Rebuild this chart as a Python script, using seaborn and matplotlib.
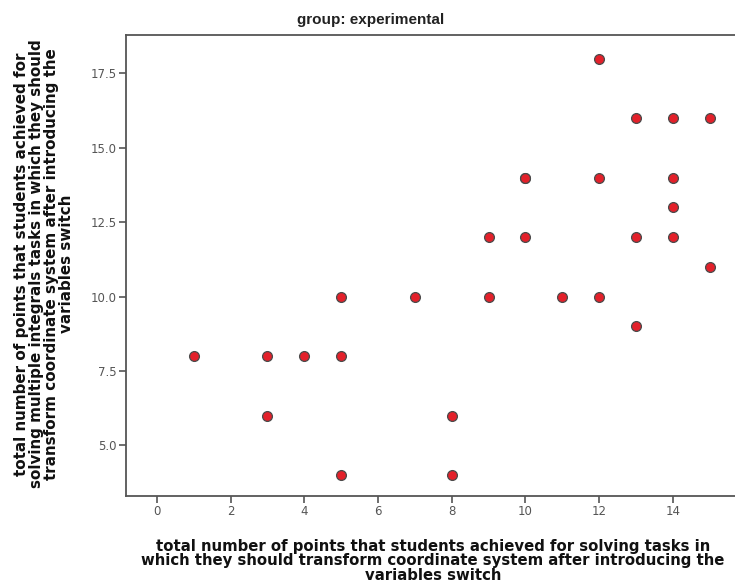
import matplotlib
matplotlib.use("Agg")
import matplotlib.pyplot as plt
import seaborn as sns
import pandas as pd

x_vals = [1, 3, 3, 4, 5, 5, 5, 7, 8, 8, 9, 9, 10, 10, 10, 11, 12, 12, 12, 13, 13, 13, 14, 14, 14, 14, 15, 15]
y_vals = [8, 8, 6, 8, 10, 8, 4, 10, 6, 4, 12, 10, 14, 14, 12, 10, 18, 14, 10, 16, 12, 9, 16, 14, 13, 12, 16, 11]
x_ticks = [0, 2, 4, 6, 8, 10, 12, 14]
y_ticks = [5.0, 7.5, 10.0, 12.5, 15.0, 17.5]
title = "group: experimental"
xlabel = ("total number of points that students achieved for solving tasks in\n"
          "which they should transform coordinate system after introducing the\n"
          "variables switch")
ylabel = ("total number of points that students achieved for\n"
          "solving multiple integrals tasks in which they should\n"
          "transform coordinate system after introducing the\n"
          "variables switch")

df = pd.DataFrame({"x": x_vals, "y": y_vals})

sns.set_theme(style="white")
plt.rcParams['font.family'] = ['DejaVu Sans']

fig = plt.figure(figsize=(7.35, 5.83), dpi=100)
ax = fig.add_axes([126/735, 1-496/583, 1-126/735, (496-35)/583])

sns.scatterplot(data=df, x="x", y="y", ax=ax, s=50, color="#e3202a",
                edgecolor="#4a4a4a", linewidth=0.9, zorder=3)

ax.set_xlim(-0.84, 15.69)
ax.set_ylim(3.30, 18.79)
ax.set_xticks(x_ticks)
ax.set_xticklabels([str(t) for t in x_ticks])
ax.set_yticks(y_ticks)
ax.set_yticklabels([f"{t:.1f}" for t in y_ticks])

for side in ["left", "bottom", "top"]:
    ax.spines[side].set_color("#555555")
    ax.spines[side].set_linewidth(1.3)
ax.spines["right"].set_visible(False)

ax.tick_params(axis="both", which="both", direction="out", length=5, width=1.2,
               color="#555555", labelcolor="#555555", labelsize=8.5, pad=1.5,
               bottom=True, left=True)

ax.set_xlabel("")
ax.set_ylabel("")

fig.text(371/735, 1-20/583, title, ha="center", va="center",
         fontsize=11, fontweight="bold", color="#222222",
         family=["Liberation Sans Narrow", "Liberation Sans", "DejaVu Sans"])

fig.text(433/735, 1-561/583, xlabel, ha="center", va="center",
         fontsize=10.7, fontweight="bold", color="#111111", linespacing=0.93)

fig.text(44/735, 1-264/583, ylabel, ha="center", va="center", rotation=90,
         fontsize=10.9, fontweight="bold", color="#111111", linespacing=1.0)

fig.savefig("out.png", dpi=100)
